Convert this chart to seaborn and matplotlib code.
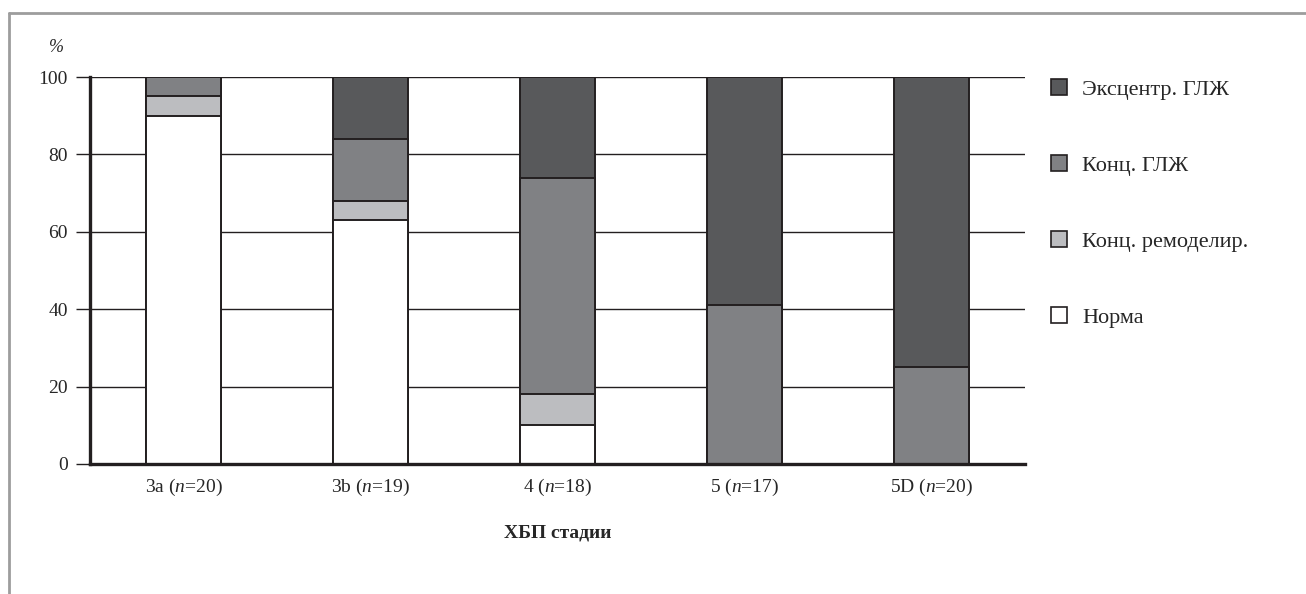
import matplotlib
matplotlib.use("Agg")
import matplotlib.pyplot as plt
import seaborn as sns
import numpy as np
import pandas as pd
from matplotlib.patches import Patch
from matplotlib.lines import Line2D

# Stages of CKD and group sizes
stages = ["3a", "3b", "4", "5", "5D"]
n_sizes = [20, 19, 18, 17, 20]

# Share of each LV geometry type, %
norma = [90, 63, 10, 0, 0]
remodel = [5, 5, 8, 0, 0]
konc = [5, 16, 56, 41, 25]
ecc = [0, 16, 26, 59, 75]

labels = ["Эксцентр. ГЛЖ", "Конц. ГЛЖ", "Конц. ремоделир.", "Норма"]
colors = ["#58595b", "#808184", "#bcbdc0", "#ffffff"]

def main():
    sns.set_style("white")
    plt.rcParams["font.family"] = ["Liberation Serif", "DejaVu Serif"]
    plt.rcParams["mathtext.fontset"] = "custom"
    plt.rcParams["mathtext.rm"] = "Liberation Serif"
    plt.rcParams["mathtext.it"] = "Liberation Serif:italic"

    df = pd.DataFrame({"stage": stages, "norma": norma, "remodel": remodel,
                       "konc": konc, "ecc": ecc})
    # cumulative heights, drawn from the top down so later bars overlay
    df["c_norma"] = df["norma"]
    df["c_remodel"] = df["c_norma"] + df["remodel"]
    df["c_konc"] = df["c_remodel"] + df["konc"]
    df["c_ecc"] = df["c_konc"] + df["ecc"]

    fig = plt.figure(figsize=(13.06, 5.94), dpi=100)
    ax = fig.add_axes([90 / 1306, 1 - 464 / 594, (1025 - 90) / 1306, (464 - 77) / 594])

    for col, c in zip(["c_ecc", "c_konc", "c_remodel", "c_norma"], colors):
        sns.barplot(data=df, x="stage", y=col, color=c, width=0.4,
                    edgecolor="#231f20", linewidth=1.4, saturation=1, ax=ax,
                    zorder=3)

    ax.set_xlim(-0.5, 4.5)
    ax.set_ylim(0, 100)
    ax.set_yticks(np.arange(0, 101, 20))
    ax.yaxis.grid(True, color="#231f20", linewidth=1.0)
    ax.set_axisbelow(True)

    for s in ["top", "right"]:
        ax.spines[s].set_visible(False)
    for s in ["left", "bottom"]:
        ax.spines[s].set_linewidth(2.4)
        ax.spines[s].set_color("#231f20")
        ax.spines[s].set_zorder(4)

    ax.set_xticks(range(len(stages)))
    ax.set_xticklabels([f"{s} ($\\mathit{{n}}$=$\\mathrm{{{n}}}$)" for s, n in zip(stages, n_sizes)],
                       fontsize=14)
    ax.set_xticks(np.arange(-0.5, 5, 1), minor=True)
    ax.tick_params(axis="x", which="major", length=0, pad=9)
    ax.tick_params(axis="x", which="minor", length=7, width=1.2, color="#231f20", direction="out")
    ax.tick_params(axis="y", length=10, width=1.0, color="#231f20", direction="out",
                   labelsize=14, pad=6, left=True)

    ax.set_ylabel("")
    ax.set_xlabel("ХБП стадии", fontsize=14, fontweight="bold", labelpad=19)

    fig.text(56 / 1306, 1 - 48 / 594, "%", fontsize=13, style="italic",
             ha="center", va="center")

    handles = [Patch(facecolor=c, edgecolor="#231f20", linewidth=1.2) for c in colors]
    fig.legend(handles, labels, loc="upper left",
               bbox_to_anchor=(1031 / 1306, 1 - 59 / 594), frameon=False,
               fontsize=16, handlelength=0.7, handleheight=0.7,
               handletextpad=0.7, labelspacing=2.5)

    # grey frame around the figure (top and left visible)
    fig.add_artist(Line2D([9 / 1306, 1], [1 - 13 / 594, 1 - 13 / 594],
                          transform=fig.transFigure, color="#9d9d9d", lw=2))
    fig.add_artist(Line2D([9 / 1306, 9 / 1306], [0, 1 - 13 / 594],
                          transform=fig.transFigure, color="#9d9d9d", lw=2))

    fig.savefig("out.png", dpi=100, facecolor="white")

if __name__ == "__main__":
    main()
